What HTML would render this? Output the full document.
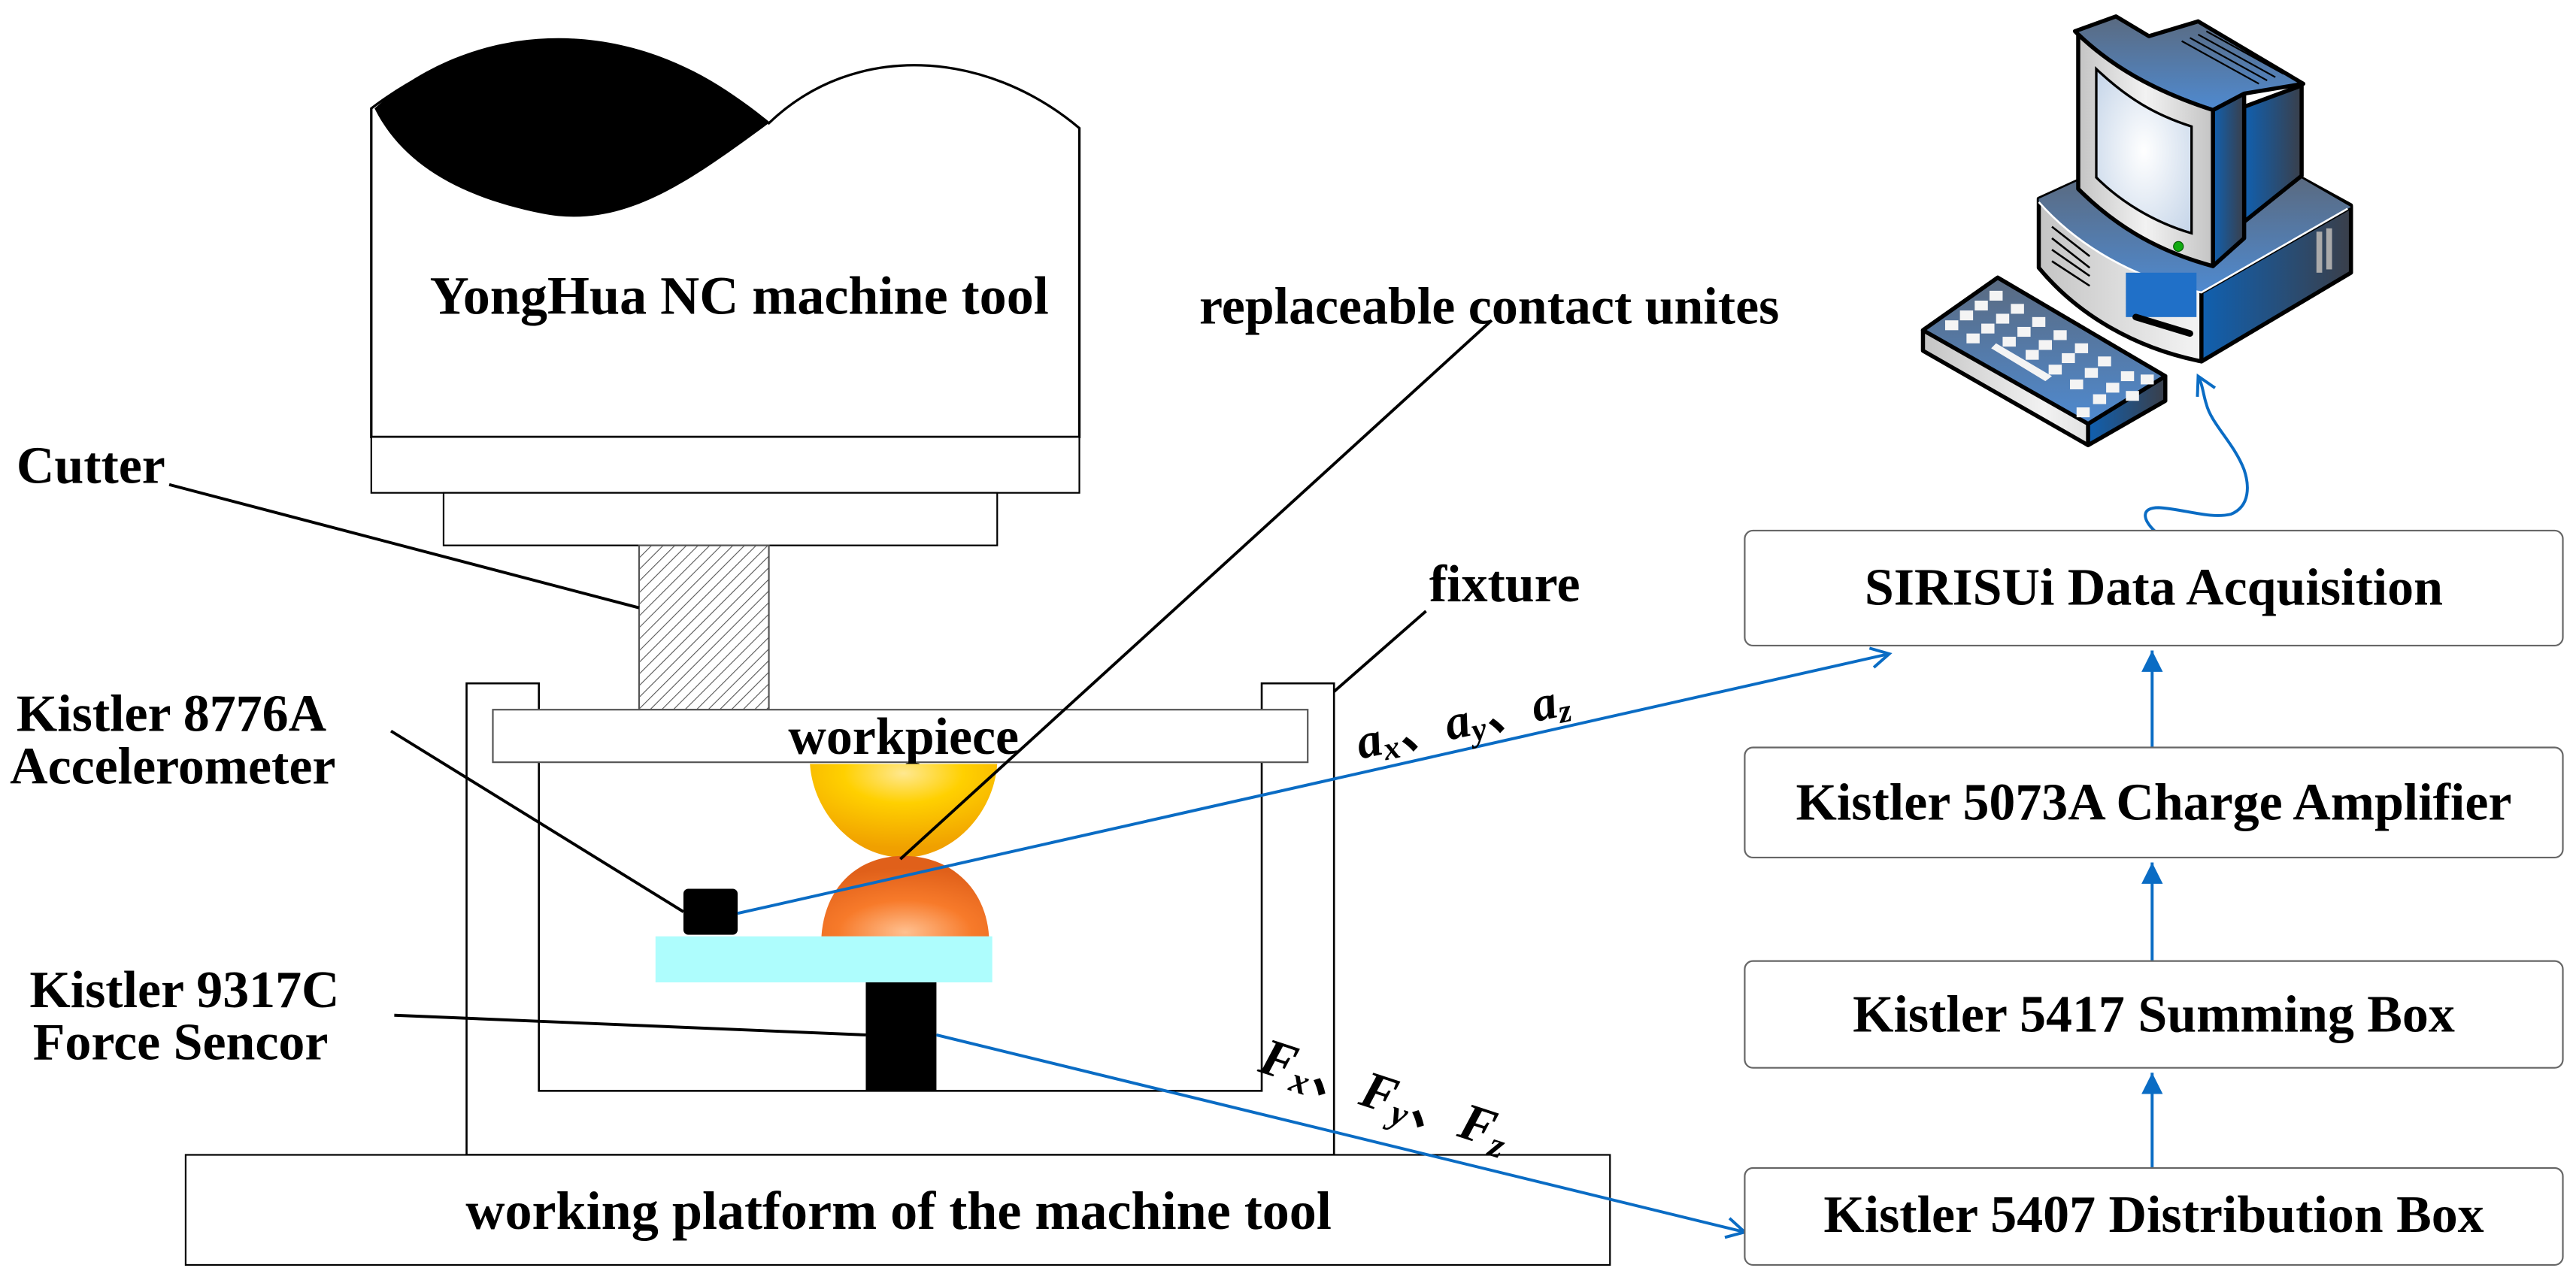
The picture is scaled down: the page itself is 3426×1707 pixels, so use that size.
<!DOCTYPE html>
<html><head><meta charset="utf-8"><style>
html,body{margin:0;padding:0;background:#fff;}
svg{display:block;}
text{font-family:"Liberation Serif",serif;font-weight:bold;fill:#000;}
</style></head><body>
<svg width="3426" height="1707" viewBox="0 0 1568 781" preserveAspectRatio="none" xmlns="http://www.w3.org/2000/svg">
<defs>
<pattern id="hatch" width="5" height="5" patternUnits="userSpaceOnUse" patternTransform="rotate(45)">
<rect width="5" height="5" fill="#fff"/><line x1="0" y1="0" x2="0" y2="5" stroke="#555" stroke-width="1"/></pattern>
<radialGradient id="yel" cx="0.5" cy="0.1" r="0.8"><stop offset="0" stop-color="#ffe890"/><stop offset="0.4" stop-color="#ffd000"/><stop offset="1" stop-color="#f0a000"/></radialGradient>
<radialGradient id="ora" cx="0.5" cy="0.95" r="0.8"><stop offset="0" stop-color="#ffc090"/><stop offset="0.5" stop-color="#f77a2a"/><stop offset="1" stop-color="#e0601a"/></radialGradient>
<linearGradient id="blu" x1="0" y1="0" x2="1" y2="0"><stop offset="0" stop-color="#1060b0"/><stop offset="1" stop-color="#3a3f4a"/></linearGradient>
<linearGradient id="top" x1="0" y1="0" x2="0" y2="1"><stop offset="0" stop-color="#5a6a80"/><stop offset="1" stop-color="#4f8ad0"/></linearGradient>
<linearGradient id="gry" x1="0" y1="0" x2="1" y2="0"><stop offset="0" stop-color="#c4c4c4"/><stop offset="0.5" stop-color="#f2f2f2"/><stop offset="1" stop-color="#c4c4c4"/></linearGradient>
<radialGradient id="scr" cx="0.5" cy="0.5" r="0.7"><stop offset="0" stop-color="#ffffff"/><stop offset="1" stop-color="#c4d4e8"/></radialGradient>
<marker id="ar" markerWidth="14" markerHeight="14" refX="13" refY="7" orient="auto" markerUnits="userSpaceOnUse"><path d="M0,0.5 L13,7 L0,13.5 z" fill="#0a6cc4"/></marker>
<marker id="ov" markerWidth="14" markerHeight="14" refX="12" refY="7" orient="auto" markerUnits="userSpaceOnUse"><path d="M1,1 L12,7 L1,13" fill="none" stroke="#0a6cc4" stroke-width="1.8"/></marker>
</defs>

<!-- Machine head -->
<path d="M226,66 C300,10 390,10 468,75 C520,25 600,30 657,78 L657,266 L226,266 Z" fill="#fff" stroke="#000" stroke-width="1.5"/>
<path d="M228,66 C290,10 390,5 468,75 C420,110 380,140 330,130 C280,120 245,100 228,66 Z" fill="#000"/>
<text x="450" y="191" font-size="33" text-anchor="middle">YongHua NC machine tool</text>
<rect x="226" y="266" width="431" height="34" fill="#fff" stroke="#000" stroke-width="1"/>
<rect x="270" y="300" width="337" height="32" fill="#fff" stroke="#000" stroke-width="1"/>
<rect x="389" y="332" width="79" height="100" fill="url(#hatch)" stroke="#555" stroke-width="1"/>

<!-- fixture -->
<path d="M284,416 L328,416 L328,664 L768,664 L768,416 L812,416 L812,703 L284,703 Z" fill="#fff" stroke="#000" stroke-width="1.2"/>
<rect x="300" y="432" width="496" height="32" fill="#fff" stroke="#555" stroke-width="1"/>
<text x="550" y="459" font-size="32" text-anchor="middle">workpiece</text>

<!-- contact units -->
<path d="M493,465 L607,465 C605,495 580,522 550,522 C520,522 495,495 493,465 Z" fill="url(#yel)"/>
<path d="M550,521 C578,521 600,540 602,570 L500,570 C502,540 522,521 550,521 Z" fill="url(#ora)"/>
<rect x="399" y="570" width="205" height="28" fill="#aefdfd"/>
<rect x="416" y="541" width="33" height="28" rx="3" fill="#000"/>
<rect x="527" y="598" width="43" height="66" fill="#000"/>

<!-- platform -->
<rect x="113" y="703" width="867" height="67" fill="#fff" stroke="#000" stroke-width="1"/>
<text x="547" y="748" font-size="33" text-anchor="middle">working platform of the machine tool</text>

<!-- leaders -->
<g stroke="#000" stroke-width="1.8">
<line x1="103" y1="295" x2="389" y2="370"/>
<line x1="908" y1="195" x2="548" y2="523"/>
<line x1="868" y1="372" x2="812" y2="421"/>
<line x1="238" y1="445" x2="416" y2="555"/>
<line x1="240" y1="618" x2="527" y2="630"/>
</g>
<text x="10" y="294" font-size="32">Cutter</text>
<text x="730" y="197" font-size="32">replaceable contact unites</text>
<text x="870" y="366" font-size="32">fixture</text>
<text x="10" y="445" font-size="32">Kistler 8776A</text>
<text x="6" y="477" font-size="32">Accelerometer</text>
<text x="18" y="613" font-size="32">Kistler 9317C</text>
<text x="20" y="645" font-size="32">Force Sencor</text>

<!-- blue connectors -->
<g stroke="#0a6cc4" stroke-width="1.8" fill="none">
<line x1="449" y1="556" x2="1150" y2="398" marker-end="url(#ov)"/>
<line x1="570" y1="630" x2="1062" y2="750" marker-end="url(#ov)"/>
<line x1="1310" y1="455" x2="1310" y2="396" marker-end="url(#ar)"/>
<line x1="1310" y1="585" x2="1310" y2="525" marker-end="url(#ar)"/>
<line x1="1310" y1="711" x2="1310" y2="653" marker-end="url(#ar)"/>
<path d="M1311.7,323.4 C1304,316 1303,309 1314,309 C1330,310 1345,316 1358,313 C1370,308 1369,295 1366,286 C1360,270 1346,258 1343,246 C1341,240 1341,235 1338,229" marker-end="url(#ov)"/>
</g>
<text x="828" y="462" font-size="30" font-style="italic" font-weight="normal" transform="rotate(-12 828 462)">a<tspan font-size="20" dy="4">x</tspan><tspan dy="-4">、</tspan>a<tspan font-size="20" dy="4">y</tspan><tspan dy="-4">、</tspan>a<tspan font-size="20" dy="4">z</tspan></text>
<text x="765" y="652" font-size="32" font-style="italic" font-weight="normal" transform="rotate(18 765 652)">F<tspan font-size="22" dy="5">x</tspan><tspan dy="-5">、</tspan>F<tspan font-size="22" dy="5">y</tspan><tspan dy="-5">、</tspan>F<tspan font-size="22" dy="5">z</tspan></text>

<!-- right boxes -->
<g fill="#fff" stroke="#666" stroke-width="1">
<rect x="1062" y="323" width="498" height="70" rx="5"/>
<rect x="1062" y="455" width="498" height="67" rx="5"/>
<rect x="1062" y="585" width="498" height="65" rx="5"/>
<rect x="1062" y="711" width="498" height="59" rx="5"/>
</g>
<text x="1311" y="368" font-size="32" text-anchor="middle">SIRISUi Data Acquisition</text>
<text x="1311" y="499" font-size="32" text-anchor="middle">Kistler 5073A Charge Amplifier</text>
<text x="1311" y="628" font-size="32" text-anchor="middle">Kistler 5417 Summing Box</text>
<text x="1311" y="750" font-size="32" text-anchor="middle">Kistler 5407 Distribution Box</text>

<!-- computer -->
<g stroke="#000" stroke-width="2.5" stroke-linejoin="round">
<path d="M1241,121 L1265,110 L1400,108 L1431,125 L1431,166 L1340,220 C1300,212 1265,192 1241,163 Z" fill="url(#gry)"/>
<path d="M1340,178 L1431,126 L1431,166 L1340,220 Z" fill="url(#blu)"/>
<path d="M1241,121 L1265,110 L1400,108 L1431,126 L1340,178 C1300,170 1265,150 1241,124 Z" fill="url(#top)" stroke="none"/>
</g>
<path d="M1241,123 C1265,150 1300,170 1340,178 L1429,127" fill="none" stroke="#fff" stroke-width="1.2"/>
<rect x="1294" y="166" width="43" height="27" fill="#2070c8"/>
<path d="M1300,193 L1333,203" stroke="#000" stroke-width="4" stroke-linecap="round"/>
<g stroke="#000" stroke-width="1.2"><line x1="1249" y1="138" x2="1272" y2="156"/><line x1="1249" y1="145" x2="1272" y2="163"/><line x1="1249" y1="152" x2="1272" y2="168"/><line x1="1249" y1="159" x2="1272" y2="174"/></g>
<rect x="1410" y="141" width="3.5" height="25" fill="#aaa"/><rect x="1416" y="139" width="3.5" height="25" fill="#aaa"/>
<g stroke="#000" stroke-width="2.5" stroke-linejoin="round">
<path d="M1366,65 L1401,52 L1401,107 L1366,135 Z" fill="url(#blu)"/>
<path d="M1347,67 L1366,57 L1366,145 L1347,162 Z" fill="url(#blu)"/>
<path d="M1263,19 L1288,10 L1308,22 L1338,13 L1402,51 L1366,57 L1347,67 C1310,55 1285,40 1265,21 Z" fill="url(#top)"/>
<path d="M1265,21 C1285,40 1310,55 1347,67 L1347,162 C1310,152 1285,135 1265,115 Z" fill="url(#gry)"/>
</g>
<path d="M1276,42 C1295,60 1312,70 1334,77 L1334,142 C1310,135 1290,122 1276,108 Z" fill="url(#scr)" stroke="#000" stroke-width="1.5"/>
<circle cx="1326" cy="150" r="3" fill="#1a1" stroke="#050" stroke-width="0.5"/>
<g stroke="#000" stroke-width="1"><line x1="1328" y1="25" x2="1375" y2="51"/><line x1="1333" y1="23" x2="1380" y2="49"/><line x1="1338" y1="21" x2="1385" y2="47"/><line x1="1343" y1="19" x2="1390" y2="45"/></g>
<g stroke="#000" stroke-width="2.5" stroke-linejoin="round">
<path d="M1216,169 L1318,229 L1318,244 L1271,271 L1170.5,213.5 L1170.5,201 Z" fill="url(#gry)"/>
<path d="M1271,258 L1318,229 L1318,244 L1271,271 Z" fill="url(#blu)"/>
<path d="M1216,169 L1318,229 L1271,258 L1170.5,201 Z" fill="url(#top)"/>
</g>
<g fill="#f4f4f4">
<rect x="1211" y="177" width="8" height="6"/><rect x="1202" y="183" width="8" height="6"/><rect x="1224" y="185" width="8" height="6"/>
<rect x="1193" y="189" width="8" height="6"/><rect x="1215" y="191" width="8" height="6"/><rect x="1237" y="193" width="8" height="6"/>
<rect x="1184" y="195" width="8" height="6"/><rect x="1206" y="197" width="8" height="6"/><rect x="1228" y="199" width="8" height="6"/><rect x="1250" y="201" width="8" height="6"/>
<rect x="1197" y="203" width="8" height="6"/><rect x="1219" y="205" width="8" height="6"/><rect x="1241" y="207" width="8" height="6"/><rect x="1263" y="209" width="8" height="6"/>
<rect x="1233" y="213" width="8" height="6"/><rect x="1255" y="215" width="8" height="6"/><rect x="1277" y="217" width="8" height="6"/>
<rect x="1247" y="222" width="8" height="6"/><rect x="1269" y="224" width="8" height="6"/><rect x="1291" y="226" width="8" height="6"/>
<rect x="1260" y="231" width="8" height="6"/><rect x="1282" y="233" width="8" height="6"/><rect x="1303" y="228" width="8" height="6"/>
<rect x="1274" y="240" width="8" height="6"/><rect x="1294" y="238" width="8" height="6"/><rect x="1264" y="248" width="8" height="6"/>
<path d="M1212,212 L1215,209 L1249,229 L1245,232 Z"/>
</g>
</svg>
</body></html>
